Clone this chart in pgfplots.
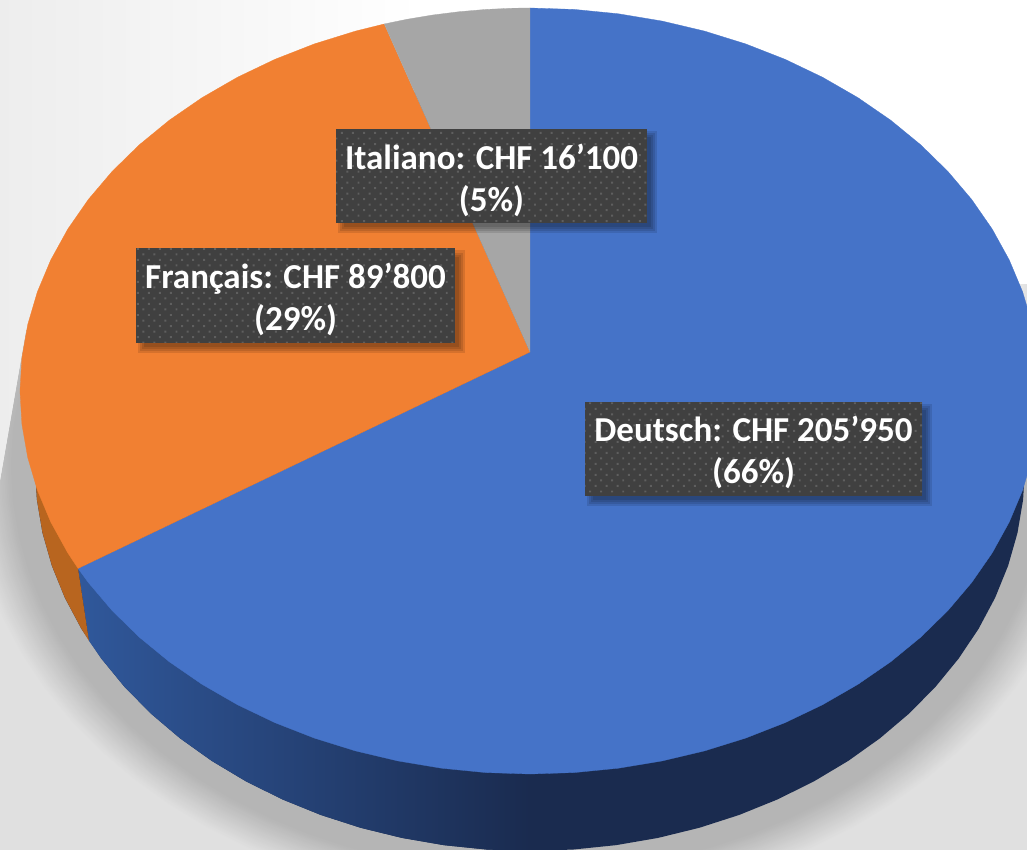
\documentclass[border=0pt]{standalone}
\usepackage{pgfplots}
\usepackage{pgfplotstable}
\usepackage{fontspec}
\setmainfont{Carlito}
\usetikzlibrary{patterns.meta}
\pgfplotsset{compat=1.18}
\definecolor{cBlue}{HTML}{4573C8}
\definecolor{cOrange}{HTML}{F18032}
\definecolor{cGrey}{HTML}{A6A6A6}
\definecolor{cNavy}{HTML}{1A2B4F}
\definecolor{cNavyL}{HTML}{30589B}
\definecolor{cOrS}{HTML}{B8651F}
\definecolor{shDark}{HTML}{B5B5B5}
\definecolor{shLight}{HTML}{E0E0E0}
\definecolor{lab}{HTML}{404040}
\definecolor{labdot}{HTML}{5F5F5F}
% rim angles of the slices: Deutsch 205950, Francais 89800, Italiano 16100
\pgfplotstableread[row sep=\\]{r t\\ 0 0\\ 1 -90\\ 1 -85\\ 1 -80\\ 1 -75\\ 1 -70\\ 1 -65\\ 1 -60\\ 1 -55\\ 1 -50\\ 1 -45\\ 1 -40\\ 1 -35\\ 1 -30\\ 1 -25\\ 1 -20\\ 1 -15\\ 1 -10\\ 1 -5\\ 1 0\\ 1 5\\ 1 10\\ 1 15\\ 1 20\\ 1 25\\ 1 30\\ 1 35\\ 1 40\\ 1 45\\ 1 50\\ 1 55\\ 1 60\\ 1 65\\ 1 70\\ 1 75\\ 1 80\\ 1 85\\ 1 90\\ 1 95\\ 1 100\\ 1 105\\ 1 110\\ 1 115\\ 1 120\\ 1 125\\ 1 130\\ 1 135\\ 1 140\\ 1 145\\ 1 150\\ 1 152.4\\}\deutsch
\pgfplotstableread[row sep=\\]{r t\\ 0 0\\ 1 152.4\\ 1 155\\ 1 160\\ 1 165\\ 1 170\\ 1 175\\ 1 180\\ 1 185\\ 1 190\\ 1 195\\ 1 200\\ 1 205\\ 1 210\\ 1 215\\ 1 220\\ 1 225\\ 1 230\\ 1 235\\ 1 240\\ 1 245\\ 1 250\\ 1 253.4\\}\francais
\pgfplotstableread[row sep=\\]{r t\\ 0 0\\ 1 253.4\\ 1 256\\ 1 259\\ 1 262\\ 1 265\\ 1 268\\ 1 270\\}\italiano
% lower rim of the pie
\pgfplotstableread[row sep=\\]{r t\\ 1 0\\ 1 5\\ 1 10\\ 1 15\\ 1 20\\ 1 25\\ 1 30\\ 1 35\\ 1 40\\ 1 45\\ 1 50\\ 1 55\\ 1 60\\ 1 65\\ 1 70\\ 1 75\\ 1 80\\ 1 85\\ 1 90\\ 1 95\\ 1 100\\ 1 105\\ 1 110\\ 1 115\\ 1 120\\ 1 125\\ 1 130\\ 1 135\\ 1 140\\ 1 145\\ 1 150\\ 1 155\\ 1 160\\ 1 165\\ 1 170\\ 1 175\\ 1 180\\ 1 185\\ 1 190\\ 1 195\\ 1 200\\ 1 205\\ 1 210\\ 1 215\\ 1 220\\ 1 225\\ 1 230\\ 1 235\\ 1 240\\ 1 245\\ 1 250\\ 1 255\\ 1 260\\ 1 265\\ 1 270\\ 1 275\\ 1 280\\ 1 285\\ 1 290\\ 1 295\\ 1 300\\ 1 305\\ 1 310\\ 1 315\\ 1 320\\ 1 325\\ 1 330\\ 1 335\\ 1 340\\ 1 345\\ 1 350\\ 1 355\\}\rim
\pgfplotstableread[row sep=\\]{r t\\ 0.951 163.8\\ 1 153\\ 1 150\\ 1 145\\ 1 140\\ 1 135\\ 1 130\\ 1 125\\ 1 120\\ 1 115\\ 1 110\\ 1 105\\ 1 100\\ 1 95\\ 1 90\\ 0 0\\}\sideblue
\pgfplotstableread[row sep=\\]{r t\\ 0.951 163.8\\ 1 153\\ 1 155\\ 1 160\\ 1 165\\ 1 170\\ 1 175\\ 1 180\\ 1 185\\ 1 190\\ 1 195\\ 1 200\\ 1 205\\ 1 210\\}\sideorange
\tikzset{
 lblshadow/.style={fill=black,opacity=.11,draw=none,inner sep=0pt,minimum width=#1},
 lblbox/.style={preaction={fill=lab},pattern={Dots[radius=1.4pt,distance=7.8pt,angle=45]},pattern color=labdot,
   inner sep=0pt,minimum height=94pt,minimum width=#1},
 lbltext/.style={text=white,align=center,inner sep=0pt,font=\fontsize{35}{42}\selectfont\bfseries}
}
\newcommand{\lbl}[4]{% x, y, width, text
 \node[lblshadow=#3+8pt,minimum height=102pt] at (axis cs:#1+6,#2+6) {};
 \node[lblshadow=#3+4pt,minimum height=98pt] at (axis cs:#1+6,#2+6) {};
 \node[lblshadow=#3,minimum height=94pt] at (axis cs:#1+6,#2+6) {};
 \node[lblshadow=#3-4pt,minimum height=90pt] at (axis cs:#1+6,#2+6) {};
 \node[lblbox=#3] at (axis cs:#1,#2) {};
 \node[lbltext] at (axis cs:#1,#2+4) {#4};
}
\begin{document}
\begin{tikzpicture}[x=1pt,y=1pt]
\useasboundingbox (0,0) rectangle (1027,850);
\begin{axis}[
  at={(0,0)},anchor=south west,
  scale only axis,width=1027pt,height=850pt,
  xmin=0,xmax=1027,ymin=0,ymax=850,y dir=reverse,
  hide axis,clip=true]
% background
\addplot[fill=shLight,draw=none] coordinates {(0,0)(1027,0)(1027,850)(0,850)};
\pgfplotsinvokeforeach{0,4,8,12,16,20,24,28,32,36,40,44,48,52,56,60,64,68,72,76,80,84,88,92,96,100}{
 \addplot[fill={shDark!#1!shLight},draw=none] table[
   x expr={530+(495+24+44*(100-#1)/100)*cos(\thisrow{t})},
   y expr={466+(385+22+36*(100-#1)/100)*sin(\thisrow{t})}] {\rim};
}
\addplot[fill=white,draw=none] coordinates {(0,0)(1027,0)(1027,470)(900,330)(26,330)(0,480)};
\addplot[left color=black!7,right color=white,draw=none] coordinates {(0,0)(420,0)(420,330)(26,330)(0,480)};
\addplot[left color=white,right color=black!12,draw=none] coordinates {(990,284)(1027,284)(1027,470)(990,470)};
% side wall
\addplot[fill=cNavy,draw=none] table[x expr={530+495*cos(\thisrow{t})},y expr={466+385*sin(\thisrow{t})}] {\rim};
\addplot[left color=cNavyL,right color=cNavy,draw=none] table[x expr={530+\thisrow{r}*495*cos(\thisrow{t})},y expr={466+\thisrow{r}*385*sin(\thisrow{t})}] {\sideblue};
\addplot[fill=cOrS,draw=none] table[x expr={530+\thisrow{r}*495*cos(\thisrow{t})},y expr={466+\thisrow{r}*385*sin(\thisrow{t})}] {\sideorange};
% top face
\addplot[fill=cBlue,draw=cBlue,line width=.3pt] table[x expr={530+\thisrow{r}*510*cos(\thisrow{t})},y expr={352+39*\thisrow{r}+383*\thisrow{r}*sin(\thisrow{t})}] {\deutsch};
\addplot[fill=cOrange,draw=cOrange,line width=.3pt] table[x expr={530+\thisrow{r}*510*cos(\thisrow{t})},y expr={352+39*\thisrow{r}+383*\thisrow{r}*sin(\thisrow{t})}] {\francais};
\addplot[fill=cGrey,draw=cGrey,line width=.3pt] table[x expr={530+\thisrow{r}*510*cos(\thisrow{t})},y expr={352+39*\thisrow{r}+383*\thisrow{r}*sin(\thisrow{t})}] {\italiano};
% labels
\lbl{491.5}{176.5}{311pt}{Italiano: CHF 16’100\\(5\%)}
\lbl{295.5}{295.5}{319pt}{Français: CHF 89’800\\(29\%)}
\lbl{753.5}{448.5}{337pt}{Deutsch: CHF 205’950\\(66\%)}
\end{axis}
\end{tikzpicture}
\end{document}
